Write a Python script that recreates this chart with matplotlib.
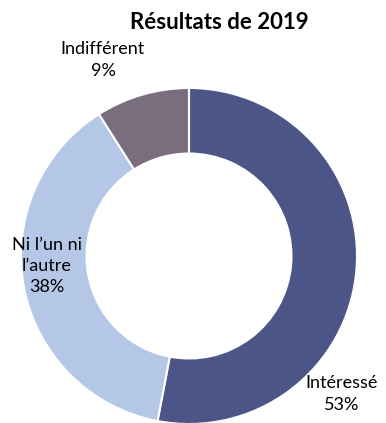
import matplotlib.pyplot as plt

# Résultats du sondage 2019
categories = ["Intéressé", "Ni l\u2019un ni\nl\u2019autre", "Indifférent"]
values = [53, 38, 9]
colors = ["#4B5587", "#B4C7E7", "#7A6E7E"]

plt.rcParams['font.family'] = ['Lato', 'DejaVu Sans']

W, H = 386, 423
fig = plt.figure(figsize=(W / 100, H / 100), dpi=100)
ax = fig.add_axes([0, 0, 1, 1])

cx, cy, r = 189, H - 256, 168
ax.pie(values, colors=colors, startangle=90, counterclock=False,
       center=(cx, cy), radius=r, frame=True,
       wedgeprops=dict(width=r * 0.39, edgecolor='white', linewidth=1.5))
ax.set_xlim(0, W)
ax.set_ylim(0, H)
ax.axis('off')

# étiquettes : catégorie + pourcentage
label_pos = [(342, H - 394), (47, H - 266), (103, H - 60)]
for name, v, (x, y) in zip(categories, values, label_pos):
    ax.text(x, y, f"{name}\n{v}%", ha='center', va='center',
            fontsize=13, linespacing=1.4, color='black')

ax.text(219, H - 22, "Résultats de 2019", ha='center', va='center',
        fontsize=16, fontweight='bold')

fig.savefig("out.png", dpi=100)
